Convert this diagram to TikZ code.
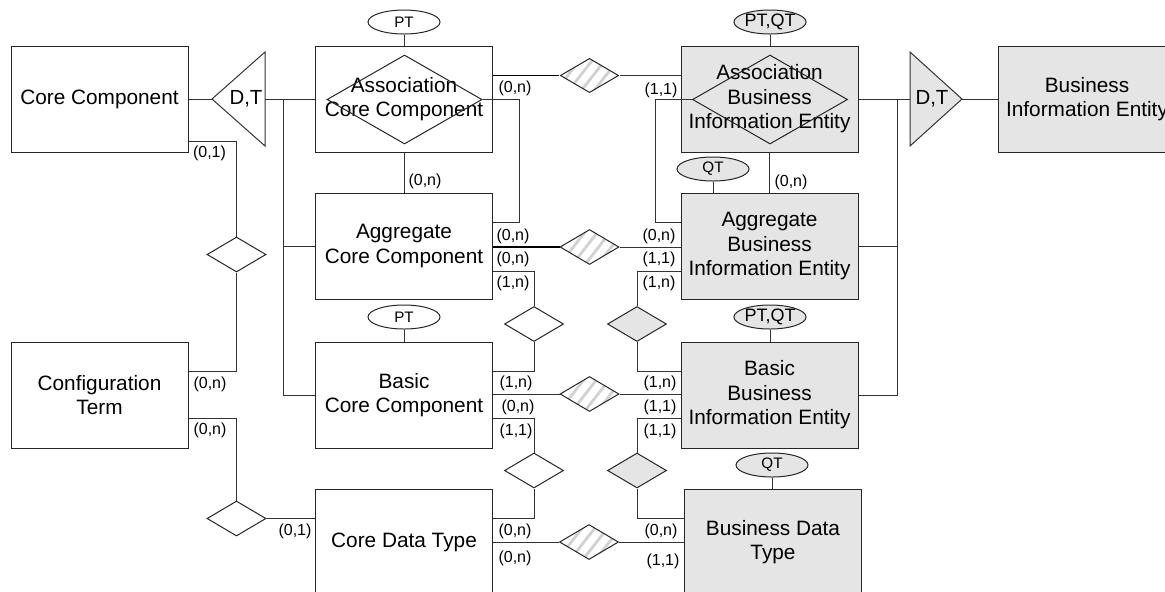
\documentclass[tikz,border=0pt]{standalone}
\usepackage{fontspec}
\setmainfont{Liberation Sans}
\usetikzlibrary{
    shapes.geometric,
    patterns.meta,
    calc
}
\tikzset{
    % Colors
    line color/.style={black!80},
    bie color/.style={fill=black!10},
    hatch color/.style={pattern color=black!18},
    %
    % Entities and attributes
    entity/.style={rectangle,draw=black!85,line width=.5pt,minimum width=88.5pt,minimum height=53pt,inner sep=0pt,align=center,font=\fontsize{10.4}{12.3}\selectfont},
    business entity/.style={entity,bie color},
    attribute/.style={ellipse,draw=black!85,line width=.5pt,minimum width=36pt,minimum height=12pt,inner sep=0pt,font=\fontsize{7.6}{9}\selectfont},
    business attribute/.style={attribute,bie color},
    pair attribute/.style={business attribute,font=\fontsize{9}{10}\selectfont},
    %
    % Relations
    relation/.style={diamond,draw=black!85,line width=.5pt,minimum width=29.5pt,minimum height=17.5pt,inner sep=0pt,fill=white},
    business relation/.style={relation,bie color},
    hatched relation/.style={relation,pattern={Lines[angle=52,distance=5pt,line width=1.4pt]},hatch color},
    weak relation/.style={diamond,draw=black!85,line width=.5pt,minimum width=77.5pt,minimum height=44.5pt,inner sep=0pt},
    %
    % Connectors
    link/.style={line color,line width=.5pt},
    strong link/.style={black,line width=.9pt}
}
\tikzstyle{every node}=[font=\fontsize{8}{9}\selectfont]

\begin{document}
\begin{tikzpicture}
        [
            x=.5pt,y=-.5pt,
            card/.style={inner sep=0pt},
            gen label/.style={inner sep=0pt,font=\fontsize{10.2}{12}\selectfont}
        ]
        \useasboundingbox (0,0) rectangle (1165,591);
        \clip (0,0) rectangle (1165,591);
        % Core components
        \node[entity] (CC) at (99.5,99) {Core Component};
        \node[entity] (ACC) at (404,99) {Association\\Core Component};
        \node[entity] (AggCC) at (404,246) {Aggregate\\Core Component};
        \node[entity] (BCC) at (404,395) {Basic\\Core Component};
        \node[entity] (CDT) at (404,542) {Core Data Type};
        \node[entity] (CT) at (99.5,395) {Configuration\\Term};
        % Business information entities
        \node[business entity] (ABIE) at (769.5,99) {Association\\Business\\Information Entity};
        \node[business entity] (AggBIE) at (769.5,246) {Aggregate\\Business\\Information Entity};
        \node[business entity] (BBIE) at (769.5,395) {Basic\\Business\\Information Entity};
        \node[business entity] (BDT) at (773,542) {Business Data\\Type};
        \node[business entity] (BIE) at (1087,99) {Business\\Information Entity};
        \node[weak relation] (wACC) at (404.5,99.5) {};
        \node[weak relation] (wABIE) at (770,99.5) {};
        % Attributes
        \node[attribute] (ptACC) at (404,22) {PT};
        \node[pair attribute] (ptqtABIE) at (770,22) {PT,QT};
        \node[business attribute] (qtAggBIE) at (713,169) {QT};
        \node[attribute] (ptBCC) at (404,317) {PT};
        \node[pair attribute] (ptqtBBIE) at (770,317) {PT,QT};
        \node[business attribute] (qtBDT) at (772,465) {QT};
        \draw[link] (ptACC) -- (ACC);
        \draw[link] (ptqtABIE.south) -- (ptqtABIE.south |- ABIE.north);
        \draw[link] (qtAggBIE.south) -- (qtAggBIE.south |- AggBIE.north);
        \draw[link] (ptBCC) -- (BCC);
        \draw[link] (ptqtBBIE.south) -- (ptqtBBIE.south |- BBIE.north);
        \draw[link] (qtBDT.south) -- (qtBDT.south |- BDT.north);
        % Relations
        \node[hatched relation] (rAssoc) at (589.5,75.5) {};
        \node[hatched relation] (rAgg) at (589.5,247) {};
        \node[hatched relation] (rBasic) at (589.5,394) {};
        \node[hatched relation] (rData) at (589,542) {};
        \node[relation] (rAggBCC) at (534,324) {};
        \node[business relation] (rAggBBIE) at (637,324) {};
        \node[relation] (rBCCCDT) at (534,470.5) {};
        \node[business relation] (rBBIEBDT) at (637,470.5) {};
        \node[relation] (rCCCT) at (236.5,254.5) {};
        \node[relation] (rCTCDT) at (236.5,518.5) {};
        % Generalisations
        \draw[link] (212,99) coordinate (glTip) -- (265,52) -- (265,146) -- cycle;
        \coordinate (glBase) at (265,99);
        \node[gen label] (glLabel) at (246,99) {D,T};
        \draw[link,bie color] (910,52) -- (910,146) -- (962,99) coordinate (grTip) -- cycle;
        \coordinate (grBase) at (910,99);
        \node[gen label] (grLabel) at (932,99) {D,T};
        \draw[link] (CC) -- (glTip);
        \draw[link] (glBase) -- (ACC);
        \coordinate (busL) at (283,99);
        \draw[link] (busL) |- (BCC.west);
        \draw[link] (busL |- AggCC.west) -- (AggCC.west);
        \draw[link] (ABIE) -- (grBase);
        \draw[link] (grTip) -- (BIE);
        \coordinate (busR) at (897,99);
        \draw[link] (busR) |- (BBIE.east);
        \draw[link] (busR |- AggBIE.east) -- (AggBIE.east);
        % Connections
        \draw[link] (ACC) -- (AggCC);
        \draw[link] (ABIE) -- (AggBIE);
        \draw[link] (wACC.east) -| (519,222) -- ([yshift=12pt]AggCC.east);
        \draw[link] (wABIE.west) -| (655,222) -- ([yshift=12pt]AggBIE.west);
        \draw[strong link] (rAssoc.west -| ACC.east) -- (rAssoc.west);
        \draw[link] (rAssoc.east) -- (rAssoc.east -| ABIE.west);
        \draw[strong link] (rAgg.west -| AggCC.east) -- (rAgg.west);
        \draw[link] (rAgg.east) -- (rAgg.east -| AggBIE.west);
        \draw[link] (rBasic.west -| BCC.east) -- (rBasic.west);
        \draw[link] (rBasic.east) -- (rBasic.east -| BBIE.west);
        \draw[link] (rData.west -| CDT.east) -- (rData.west);
        \draw[link] (rData.east) -- (rData.east -| BDT.west);
        \draw[link] ([yshift=-12.5pt]AggCC.east) -| (rAggBCC.north);
        \draw[link] (rAggBCC.south) |- ([yshift=12pt]BCC.east);
        \draw[link] ([yshift=-12.5pt]AggBIE.west) -| (rAggBBIE.north);
        \draw[link] (rAggBBIE.south) |- ([yshift=12pt]BBIE.west);
        \draw[link] ([yshift=-11.5pt]BCC.east) -| (rBCCCDT.north);
        \draw[link] (rBCCCDT.south) |- ([yshift=12pt]CDT.east);
        \draw[link] ([yshift=-11.5pt]BBIE.west) -| (rBBIEBDT.north);
        \draw[link] (rBBIEBDT.south) |- ([yshift=12pt]BDT.west);
        \draw[link] ([yshift=-21pt]CC.east) -| (rCCCT.north);
        \draw[link] (rCCCT.south) |- ([yshift=12pt]CT.east);
        \draw[link] ([yshift=-11.5pt]CT.east) -| (rCTCDT.north);
        \draw[link] (rCTCDT.east) -- (rCTCDT.east -| CDT.west);
        % Cardinalities
        \node[card] (cCC) at (209.5,153) {(0,1)};
        \node[card] (cCTa) at (210,384) {(0,n)};
        \node[card] (cCTb) at (210,430) {(0,n)};
        \node[card] (cCDTl) at (295,531) {(0,1)};
        \node[card] (cACCr) at (515,88) {(0,n)};
        \node[card] (cABIEl) at (661,90) {(1,1)};
        \node[card] (cACCb) at (425,181) {(0,n)};
        \node[card] (cABIEb) at (791,182) {(0,n)};
        \node[card] (cAggCCa) at (513,236) {(0,n)};
        \node[card] (cAggCCb) at (513,259) {(0,n)};
        \node[card] (cAggCCc) at (513,283) {(1,n)};
        \node[card] (cAggBIEa) at (659,236) {(0,n)};
        \node[card] (cAggBIEb) at (659,259) {(1,1)};
        \node[card] (cAggBIEc) at (659,283) {(1,n)};
        \node[card] (cBCCa) at (516,383) {(1,n)};
        \node[card] (cBCCb) at (518,407) {(0,n)};
        \node[card] (cBCCc) at (516,431) {(1,1)};
        \node[card] (cBBIEa) at (660,383) {(1,n)};
        \node[card] (cBBIEb) at (660,407) {(1,1)};
        \node[card] (cBBIEc) at (660,431) {(1,1)};
        \node[card] (cCDTa) at (515,531) {(0,n)};
        \node[card] (cCDTb) at (515,558) {(0,n)};
        \node[card] (cBDTa) at (661,531) {(0,n)};
        \node[card] (cBDTb) at (663,561) {(1,1)};
    \end{tikzpicture}
\end{document}
